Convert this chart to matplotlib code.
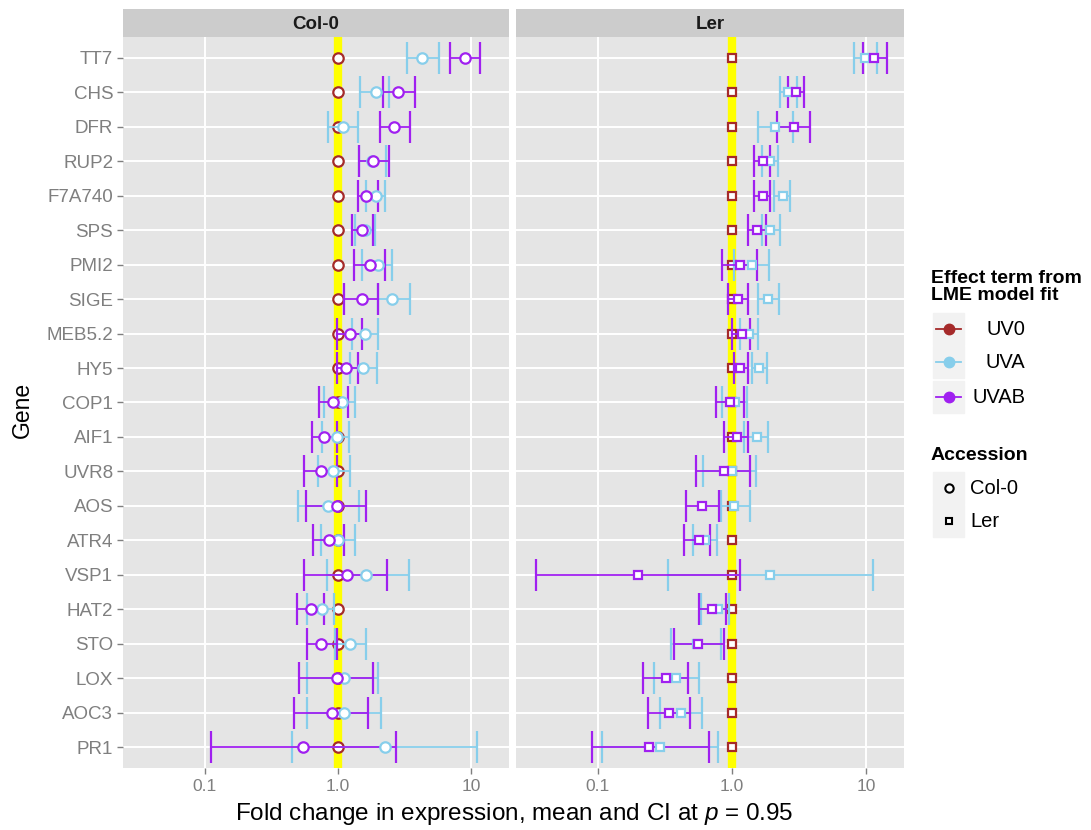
import numpy as np
import matplotlib
matplotlib.use("Agg")
import matplotlib.pyplot as plt

plt.rcParams['font.family'] = ['Liberation Sans', 'DejaVu Sans']
plt.rcParams['mathtext.fontset'] = 'custom'
plt.rcParams['mathtext.it'] = 'Liberation Sans:italic'
plt.rcParams['mathtext.rm'] = 'Liberation Sans'

genes = ["TT7", "CHS", "DFR", "RUP2", "F7A740", "SPS", "PMI2", "SIGE", "MEB5.2", "HY5",
         "COP1", "AIF1", "UVR8", "AOS", "ATR4", "VSP1", "HAT2", "STO", "LOX", "AOC3", "PR1"]

# Col-0, fold change relative to UV0 (UV0 = 1)
col_uva = [4.3, 1.92, 1.09, 1.80, 1.92, 1.60, 1.99, 2.57, 1.59, 1.54,
           1.07, 0.99, 0.92, 0.84, 1.00, 1.64, 0.76, 1.23, 1.11, 1.11, 2.24]
col_uva_lo = [3.3, 1.46, 0.84, 1.45, 1.62, 1.35, 1.51, 1.99, 1.27, 1.23,
              0.79, 0.76, 0.71, 0.50, 0.75, 0.83, 0.59, 0.95, 0.59, 0.59, 0.45]
col_uva_hi = [5.7, 2.44, 1.41, 2.30, 2.24, 1.90, 2.57, 3.50, 1.99, 1.95,
              1.34, 1.21, 1.23, 1.44, 1.34, 3.39, 0.93, 1.64, 1.99, 2.09, 11.1]
col_uvab = [9.0, 2.85, 2.66, 1.82, 1.64, 1.51, 1.73, 1.51, 1.23, 1.15,
            0.92, 0.79, 0.75, 0.98, 0.86, 1.17, 0.63, 0.75, 0.98, 0.90, 0.55]
col_uvab_lo = [6.9, 2.20, 2.06, 1.44, 1.41, 1.27, 1.32, 1.11, 0.99, 0.98,
               0.72, 0.64, 0.56, 0.58, 0.65, 0.56, 0.49, 0.59, 0.51, 0.47, 0.111]
col_uvab_hi = [11.7, 3.76, 3.50, 2.40, 1.99, 1.82, 2.24, 1.99, 1.51, 1.41,
               1.19, 0.98, 0.98, 1.64, 1.11, 2.32, 0.79, 0.98, 1.82, 1.67, 2.71]

# Ler
ler_uva = [9.8, 2.62, 2.09, 1.92, 2.40, 1.92, 1.41, 1.86, 1.35, 1.59,
           1.05, 1.54, 1.00, 1.03, 0.63, 1.92, 0.78, 0.55, 0.38, 0.42, 0.29]
ler_uva_lo = [8.1, 2.28, 1.56, 1.67, 2.06, 1.67, 1.03, 1.56, 1.15, 1.41,
              0.84, 1.23, 0.61, 0.83, 0.51, 0.333, 0.59, 0.35, 0.26, 0.29, 0.107]
ler_uva_hi = [12.1, 3.05, 2.85, 2.20, 2.71, 2.28, 1.89, 2.24, 1.56, 1.82,
              1.29, 1.86, 1.51, 1.36, 0.77, 11.3, 0.95, 0.83, 0.57, 0.60, 0.79]
ler_uvab = [11.5, 3.0, 2.9, 1.70, 1.70, 1.54, 1.15, 1.11, 1.19, 1.15,
            0.97, 1.09, 0.87, 0.60, 0.57, 0.199, 0.71, 0.56, 0.32, 0.34, 0.24]
ler_uvab_lo = [9.5, 2.62, 2.17, 1.46, 1.46, 1.32, 0.84, 0.93, 1.00, 1.03,
               0.76, 0.87, 0.54, 0.45, 0.44, 0.0344, 0.57, 0.37, 0.217, 0.236, 0.090]
ler_uvab_hi = [14.4, 3.45, 3.82, 1.92, 1.92, 1.79, 1.54, 1.32, 1.36, 1.32,
               1.23, 1.32, 1.36, 0.80, 0.69, 1.15, 0.90, 0.87, 0.47, 0.49, 0.67]

c_uv0 = "#A52A2A"
c_uva = "#87CEEB"
c_uvab = "#A020F0"

fig = plt.figure(figsize=(10.91, 8.30), dpi=100)
W, H = 1091, 830

def px_axes(x0, y0, x1, y1):
    return fig.add_axes([x0 / W, 1 - y1 / H, (x1 - x0) / W, (y1 - y0) / H])

y = np.arange(len(genes))

def draw_panel(ax, strip, uva, uva_lo, uva_hi, uvab, uvab_lo, uvab_hi, marker, ms, show_y):
    ax.set_facecolor("#E5E5E5")
    ax.set_xscale("log")
    ax.set_xlim(10 ** -1.612, 10 ** 1.284)
    ax.set_ylim(len(genes) - 0.4, -0.6)
    for s in ax.spines.values():
        s.set_visible(False)
    for g in y:
        ax.axhline(g, color="white", lw=1.4, zorder=0)
    for v in [0.1, 1, 10]:
        ax.axvline(v, color="white", lw=1.4, zorder=0)
    ax.axvline(1, color="#FFFF00", lw=6, zorder=1)

    # UV0 reference
    ax.plot(np.ones(len(genes)), y, linestyle="none", marker=marker, ms=ms,
            mfc="white", mec=c_uv0, mew=1.6, zorder=3)
    for m, lo, hi, c in [(uva, uva_lo, uva_hi, c_uva), (uvab, uvab_lo, uvab_hi, c_uvab)]:
        m = np.array(m); lo = np.array(lo); hi = np.array(hi)
        ax.errorbar(m, y, xerr=[m - lo, hi - m], fmt=marker, ms=ms, mfc="white",
                    mec=c, mew=1.6, ecolor=c, elinewidth=1.3, capsize=11.5,
                    capthick=1.3, zorder=4)

    ax.set_xticks([0.1, 1, 10])
    ax.set_xticklabels(["0.1", "1.0", "10"])
    ax.xaxis.set_minor_locator(matplotlib.ticker.NullLocator())
    ax.tick_params(axis="x", colors="#7F7F7F", labelsize=12.5, length=4, width=1, pad=4)
    ax.set_yticks(y)
    if show_y:
        ax.set_yticklabels(genes)
        ax.tick_params(axis="y", colors="#7F7F7F", labelsize=13.5, length=4, width=1, pad=3)
    else:
        ax.set_yticklabels([])
        ax.tick_params(axis="y", length=0)

    # facet strip
    sax = fig.add_axes([ax.get_position().x0, ax.get_position().y1,
                        ax.get_position().width, 28 / H])
    sax.set_facecolor("#CCCCCC")
    sax.set_xticks([]); sax.set_yticks([])
    for s in sax.spines.values():
        s.set_visible(False)
    sax.text(0.5, 0.45, strip, ha="center", va="center", fontsize=13.5, color="#1A1A1A",
             fontweight="bold")

ax1 = px_axes(123, 37, 509, 768)
ax2 = px_axes(516, 37, 904, 768)
draw_panel(ax1, "Col-0", col_uva, col_uva_lo, col_uva_hi,
           col_uvab, col_uvab_lo, col_uvab_hi, "o", 7.5, True)
draw_panel(ax2, "Ler", ler_uva, ler_uva_lo, ler_uva_hi,
           ler_uvab, ler_uvab_lo, ler_uvab_hi, "s", 6, False)

fig.text(514 / W, 1 - 814 / H, r"Fold change in expression, mean and CI at $\it{p}$ = 0.95",
         ha="center", va="center", fontsize=17.5)
fig.text(22 / W, 1 - 410 / H, "Gene", rotation=90, ha="center", va="center", fontsize=16.5)

# legend, drawn by hand in pixel space
lax = fig.add_axes([0, 0, 1, 1])
lax.set_xlim(0, W)
lax.set_ylim(H, 0)
lax.axis("off")
lax.text(931, 287, "Effect term from\nLME model fit", fontsize=14, fontweight="bold",
         va="center", ha="left", linespacing=0.95)
for yc, c, lab in [(329, c_uv0, "UV0"), (362, c_uva, "UVA"), (397, c_uvab, "UVAB")]:
    lax.add_patch(plt.Rectangle((933, yc - 16), 31, 32, color="#F2F2F2"))
    lax.plot([936, 961], [yc, yc], color=c, lw=1.3)
    lax.plot([948.5], [yc], marker="o", ms=7.5, color=c)
    lax.text(1025, yc, lab, fontsize=14.5, ha="right", va="center")
lax.text(931, 455, "Accession", fontsize=14, fontweight="bold", va="center", ha="left")
for yc, mk, ms, lab in [(488, "o", 6, "Col-0"), (521, "s", 5, "Ler")]:
    lax.add_patch(plt.Rectangle((933, yc - 16), 31, 32, color="#F2F2F2"))
    lax.plot([948.5], [yc], marker=mk, ms=ms, mfc="white", mec="black", mew=1.5)
    lax.text(970, yc, lab, fontsize=14.5, ha="left", va="center")

fig.savefig("out.png", dpi=100)
